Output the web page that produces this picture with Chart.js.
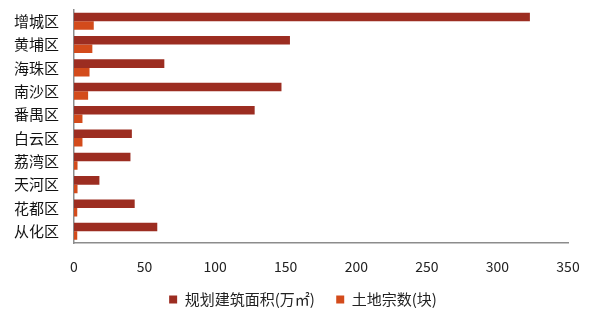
<!DOCTYPE html>
<html>
<head>
<meta charset="utf-8">
<script src="https://cdn.jsdelivr.net/npm/chart.js@4"></script>
<style>
  html, body { margin: 0; padding: 0; background: #fff; }
  #wrap { width: 589px; height: 314px; }
</style>
</head>
<body>
<div id="wrap"><canvas id="chart" width="589" height="314"></canvas></div>
<script>
const districts = ['增城区', '黄埔区', '海珠区', '南沙区', '番禺区', '白云区', '荔湾区', '天河区', '花都区', '从化区'];
const floorArea = [323, 153, 64, 147, 128, 41, 40, 18, 43, 59];
const landCount = [14, 13, 11, 10, 6, 6, 2.5, 2.5, 2.3, 2.3];
const xTicks = [0, 50, 100, 150, 200, 250, 300, 350];

const fontFamily = '"Microsoft YaHei", "Noto Sans CJK SC", sans-serif';
const axisGray = '#8c8c8c';

// legend box: fixed height, nudged to the right like the original
const legendFix = {
  id: 'legendFix',
  afterInit(chart) {
    const fit = chart.legend.fit;
    chart.legend.fit = function () { fit.call(this); this.height = 31; };
  },
  afterLayout(chart) {
    chart.legend.left += 19;
    chart.legend.right += 19;
    chart.legend.top += 1;
    chart.legend.bottom += 1;
  }
};

const ctx = document.getElementById('chart').getContext('2d');
const chart = new Chart(ctx, {
  type: 'bar',
  data: {
    labels: districts,
    datasets: [
      {
        label: '规划建筑面积(万㎡)',
        data: floorArea,
        backgroundColor: '#9c2d21',
        categoryPercentage: 0.73,
        barPercentage: 1.0
      },
      {
        label: '土地宗数(块)',
        data: landCount,
        backgroundColor: '#d34b1b',
        categoryPercentage: 0.73,
        barPercentage: 1.0
      }
    ]
  },
  options: {
    indexAxis: 'y',
    responsive: false,
    animation: false,
    layout: { padding: { left: 0, right: 21, top: 9.5, bottom: 0 } },
    scales: {
      x: {
        min: 0,
        max: 350,
        afterBuildTicks: (axis) => { axis.ticks = xTicks.map(v => ({ value: v })); },
        grid: { display: false, drawTicks: false },
        border: { display: true, color: axisGray, width: 1.5 },
        ticks: {
          padding: 15,
          color: '#222',
          font: { family: fontFamily, size: 14 }
        },
        afterFit: (axis) => {
          axis.height = 40;
          axis.paddingLeft = 0;
          axis.paddingRight = 0;
        }
      },
      y: {
        grid: { display: false, drawTicks: false },
        border: { display: true, color: axisGray, width: 1.5 },
        ticks: {
          autoSkip: false,
          padding: 15,
          color: '#111',
          font: { family: fontFamily, size: 15 }
        },
        afterFit: (axis) => {
          axis.width = 74;
          axis.paddingTop = 0;
          axis.paddingBottom = 0;
        }
      }
    },
    plugins: {
      tooltip: { enabled: false },
      legend: {
        position: 'bottom',
        labels: {
          boxWidth: 8,
          boxHeight: 8,
          padding: 8,
          color: '#222',
          font: { family: fontFamily, size: 15 },
          generateLabels: (c) => {
            const items = Chart.defaults.plugins.legend.labels.generateLabels(c);
            items[0].text += '    ';
            return items;
          }
        }
      }
    }
  },
  plugins: [legendFix]
});
</script>
</body>
</html>
